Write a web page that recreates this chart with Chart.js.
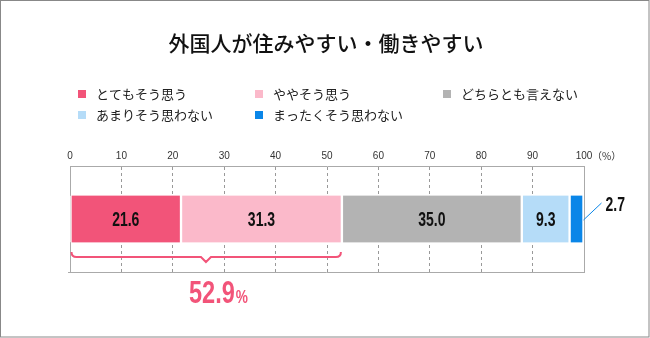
<!DOCTYPE html>
<html>
<head>
    <title>外国人が住みやすい・働きやすい</title>
    <script src="https://cdn.jsdelivr.net/npm/chart.js"></script>
    <style>
        body { margin: 0; background: #fff; }
    </style>
</head>
<body>
    <canvas id="myChart" width="650" height="338"></canvas>

    <script>
        // chart data
        var chartTitle = '外国人が住みやすい・働きやすい';
        var categories = ['外国人が住みやすい・働きやすい'];
        var seriesNames = ['とてもそう思う', 'ややそう思う', 'どちらとも言えない', 'あまりそう思わない', 'まったくそう思わない'];
        var seriesValues = [21.6, 31.3, 35.0, 9.3, 2.7];
        var seriesColors = ['#F25479', '#FBB9CA', '#B3B3B3', '#B5DCF8', '#0A86E8'];
        var tickValues = [0, 10, 20, 30, 40, 50, 60, 70, 80, 90, 100];
        var bracketTotal = 52.9;

        var numFont = '"Liberation Sans", Arial, sans-serif';
        var jpFont = '"Noto Sans CJK JP", sans-serif';

        // condensed looking numbers: squeeze text horizontally
        function narrowText(ctx, text, x, y, align, sx) {
            var w = ctx.measureText(text).width * sx;
            var left = align === 'center' ? x - w / 2 : (align === 'right' ? x - w : x);
            ctx.save();
            ctx.textAlign = 'left';
            ctx.translate(left, y);
            ctx.scale(sx, 1);
            ctx.fillText(text, 0, 0);
            ctx.restore();
            return w;
        }

        var datasets = seriesNames.map(function(name, i) {
            return {
                label: name,
                data: [seriesValues[i]],
                backgroundColor: seriesColors[i],
                borderColor: '#fff',
                borderWidth: {left: 1.5, right: 1.5, top: 0, bottom: 0},
                borderSkipped: false,
                barThickness: 47
            };
        });

        // title, legend, labels, brace
        var decorations = {
            id: 'decorations',
            beforeDatasetsDraw: function(chart) {
                var ctx = chart.ctx;
                var a = chart.chartArea;
                ctx.save();
                ctx.strokeStyle = '#aaa';
                ctx.lineWidth = 1;
                ctx.beginPath();
                ctx.moveTo(a.left + 0.5, a.top);
                ctx.lineTo(a.left + 0.5, a.bottom + 0.5);
                ctx.moveTo(a.right + 0.5, a.top);
                ctx.lineTo(a.right + 0.5, a.bottom + 0.5);
                ctx.moveTo(a.left - 2, a.bottom + 0.5);
                ctx.lineTo(a.right + 1, a.bottom + 0.5);
                ctx.stroke();
                ctx.restore();
            },
            afterDatasetsDraw: function(chart) {
                var ctx = chart.ctx;
                var xs = chart.scales.x;
                ctx.save();
                ctx.textBaseline = 'middle';
                // values inside segments
                chart.data.datasets.forEach(function(ds, i) {
                    var el = chart.getDatasetMeta(i).data[0];
                    var v = ds.data[0];
                    ctx.fillStyle = '#111';
                    ctx.font = 'bold 20px ' + numFont;
                    if (v >= 5) {
                        narrowText(ctx, v.toFixed(1), (el.x + el.base) / 2, el.y + 1, 'center', 0.7);
                    } else {
                        ctx.strokeStyle = ds.backgroundColor;
                        ctx.lineWidth = 1;
                        ctx.beginPath();
                        ctx.moveTo(el.x, el.y + 1);
                        ctx.lineTo(el.x + 18, el.y - 16);
                        ctx.stroke();
                        narrowText(ctx, v.toFixed(1), el.x + 22, el.y - 14, 'left', 0.7);
                    }
                });
                // brace under first two segments
                var el0 = chart.getDatasetMeta(0).data[0];
                var yb = el0.y + el0.height / 2 + 14.5;
                var x0 = xs.getPixelForValue(0) + 1.5;
                var x1 = xs.getPixelForValue(bracketTotal) - 1;
                var mid = xs.getPixelForValue(bracketTotal / 2);
                ctx.strokeStyle = seriesColors[0];
                ctx.lineWidth = 2;
                ctx.beginPath();
                ctx.moveTo(x0, yb - 5);
                ctx.quadraticCurveTo(x0, yb, x0 + 5, yb);
                ctx.lineTo(mid - 5, yb);
                ctx.lineTo(mid, yb + 5);
                ctx.lineTo(mid + 5, yb);
                ctx.lineTo(x1 - 5, yb);
                ctx.quadraticCurveTo(x1, yb, x1, yb - 5);
                ctx.stroke();
                // total label
                ctx.fillStyle = seriesColors[0];
                ctx.textBaseline = 'alphabetic';
                var big = bracketTotal.toFixed(1);
                ctx.font = 'bold 31px ' + numFont;
                var wBig = ctx.measureText(big).width * 0.76;
                ctx.font = 'bold 18px ' + numFont;
                var wPct = ctx.measureText('%').width * 0.76;
                var sx = mid + 12 - (wBig + wPct) / 2;
                ctx.font = 'bold 31px ' + numFont;
                narrowText(ctx, big, sx, yb + 46, 'left', 0.76);
                ctx.font = 'bold 18px ' + numFont;
                narrowText(ctx, '%', sx + wBig + 1, yb + 46, 'left', 0.76);
                ctx.restore();
            },
            afterDraw: function(chart) {
                var ctx = chart.ctx;
                var xs = chart.scales.x;
                ctx.save();
                // title
                ctx.fillStyle = '#111';
                ctx.font = '500 21px ' + jpFont;
                ctx.textAlign = 'center';
                ctx.textBaseline = 'middle';
                ctx.fillText(chartTitle, 326, 43);
                // legend
                var pos = [[78, 90], [255, 90], [443, 90], [78, 111], [255, 111]];
                ctx.font = '13px ' + jpFont;
                ctx.textAlign = 'left';
                chart.data.datasets.forEach(function(ds, i) {
                    ctx.fillStyle = ds.backgroundColor;
                    ctx.fillRect(pos[i][0], pos[i][1], 8, 8);
                    ctx.fillStyle = '#222';
                    ctx.fillText(ds.label, pos[i][0] + 18, pos[i][1] + 4);
                });
                // unit after last tick
                ctx.font = '10px ' + jpFont;
                ctx.fillStyle = '#333';
                ctx.fillText('（%）', xs.getPixelForValue(100) + 8, 156);
                // outer frame
                ctx.strokeStyle = '#888';
                ctx.lineWidth = 1;
                ctx.strokeRect(0.5, 0.5, 648.5, 336.5);
                ctx.restore();
            }
        };

        var ctx = document.getElementById("myChart").getContext("2d");
        var chart = new Chart(ctx, {
            type: 'bar',
            data: {
                labels: categories,
                datasets: datasets
            },
            options: {
                indexAxis: 'y',
                responsive: false,
                animation: false,
                devicePixelRatio: 1,
                layout: {
                    padding: {top: 146, left: 70, right: 66, bottom: 66}
                },
                scales: {
                    x: {
                        type: 'linear',
                        position: 'top',
                        stacked: true,
                        min: 0,
                        max: 100,
                        afterBuildTicks: function(s) {
                            s.ticks = tickValues.map(function(v) { return {value: v}; });
                        },
                        afterFit: function(s) { s.height = 20; },
                        ticks: {
                            color: '#333',
                            padding: 4,
                            font: {family: 'Liberation Sans, Arial, sans-serif', size: 10}
                        },
                        grid: {
                            drawTicks: false,
                            color: function(c) {
                                if (c.tick && (c.tick.value === 0 || c.tick.value === 100)) return 'transparent';
                                return '#999';
                            }
                        },
                        border: {display: true, color: '#aaa', dash: [3, 3]}
                    },
                    y: {
                        stacked: true,
                        display: false
                    }
                },
                plugins: {
                    legend: {display: false},
                    title: {display: false},
                    tooltip: {enabled: false}
                }
            },
            plugins: [decorations]
        });
    </script>
</body>
</html>
